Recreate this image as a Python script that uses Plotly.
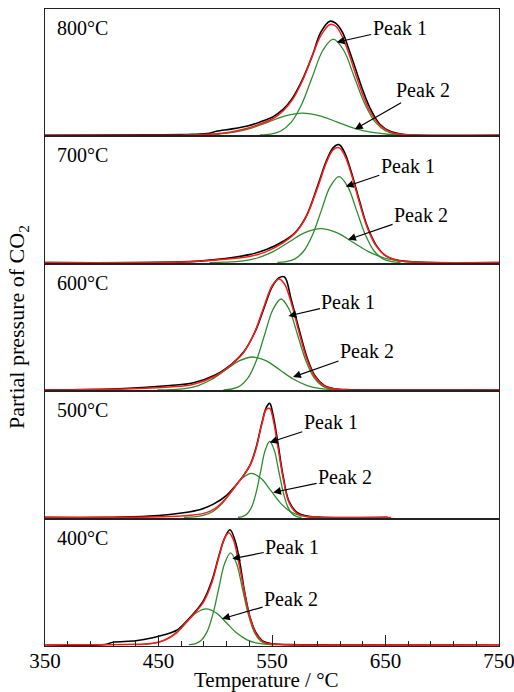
import plotly.graph_objects as go
from plotly.subplots import make_subplots

FONT = "Liberation Serif"

# ---------------- data (temperature in °C, partial pressure in arbitrary units) ----------------
panel_labels = ["800°C", "700°C", "600°C", "500°C", "400°C"]
x_ticks = [350, 450, 550, 650, 750]

# 800 °C
black_800_T = [350, 442, 480, 495, 501, 515, 530, 539, 551, 560, 568, 577, 586, 593, 601, 606, 612, 618, 624, 630, 636, 645, 654, 665, 680, 750]
black_800_v = [0, 0.3, 0.8, 2, 4, 6.3, 9.7, 13, 18.5, 26, 37, 56, 81, 103, 114, 112, 103, 85, 65, 45, 28, 11, 4, 1, 0, 0]
red_800_T = [350, 480, 495, 501, 515, 530, 539, 551, 560, 568, 577, 586, 593, 601, 606, 612, 618, 624, 630, 636, 645, 654, 665, 680, 750]
red_800_v = [0, 0.3, 1, 1.5, 3.5, 7.5, 11, 16.7, 24.4, 35.5, 55, 80.7, 99.5, 110.7, 109.2, 98.5, 80.7, 60, 40.3, 24.7, 9.9, 3.3, 0.6, 0, 0]
p1_800_T = [539.25, 548.5, 557.75, 567, 576.25, 585.5, 594.75, 604, 613.25, 622.5, 631.75, 641, 650.25, 659.5, 668.75]
p1_800_v = [0.2, 1.1, 4.2, 13.0, 31.2, 58.2, 84.7, 96, 84.7, 58.2, 31.2, 13.0, 4.2, 1.1, 0.2]
p2_800_T = [472, 487, 502, 517, 532, 547, 562, 577, 592, 607, 622, 637, 652, 667, 682]
p2_800_v = [0.05, 0.24, 0.97, 2.98, 7.14, 13.3, 19.4, 22, 19.4, 13.3, 7.14, 2.98, 0.97, 0.24, 0.05]

# 700 °C
black_700_T = [350, 470, 500, 530, 545, 560, 570, 580, 590, 598, 604, 609, 614, 620, 627, 634, 642, 650, 660, 675, 690, 750]
black_700_v = [0, 0.7, 3, 8, 13, 21.3, 29.5, 46, 76, 102, 115, 118, 110, 90, 62, 36, 17, 7, 2.5, 0.8, 0, 0]
red_700_T = [350, 470, 500, 530, 545, 560, 570, 580, 590, 598, 604, 609, 614, 620, 627, 634, 642, 650, 660, 675, 690, 750]
red_700_v = [0, 0.5, 2.5, 6, 11, 20, 29, 45.5, 74.4, 100.3, 113, 115, 107.3, 88.2, 60.1, 35, 16.2, 6.9, 2.3, 0.5, 0, 0]
p1_700_T = [554.75, 562.5, 570.25, 578, 585.75, 593.5, 601.25, 609, 616.75, 624.5, 632.25, 640, 647.75, 655.5, 663.25]
p1_700_v = [0.19, 0.95, 3.78, 11.6, 27.9, 52.2, 75.9, 86, 75.9, 52.2, 27.9, 11.6, 3.78, 0.95, 0.19]
p2_700_T = [495, 509, 523, 537, 551, 565, 579, 593, 607, 621, 635, 649, 663, 677, 691]
p2_700_v = [0.07, 0.38, 1.49, 4.6, 11.0, 20.6, 30.0, 34, 30.0, 20.6, 11.0, 4.6, 1.49, 0.38, 0.07]

# 600 °C
black_600_T = [350, 420, 460, 480, 500, 515, 525, 535, 543, 550, 556, 561, 567, 574, 581, 588, 596, 605, 620, 750]
black_600_v = [0, 1.5, 4.5, 7, 15, 26.5, 38, 58, 82, 103, 112, 113, 90, 60, 32, 14, 4.5, 1.2, 0.3, 0]
red_600_T = [350, 420, 460, 480, 500, 515, 525, 535, 543, 550, 556, 561, 567, 574, 581, 588, 596, 605, 620, 750]
red_600_v = [0, 1, 3, 5.5, 14, 26, 37.5, 58.5, 83.5, 104, 111, 106, 87, 57, 30, 13, 4, 1, 0, 0]
p1_600_T = [507.25, 514.5, 521.75, 529, 536.25, 543.5, 550.75, 558, 565.25, 572.5, 579.75, 587, 594.25, 601.5, 608.75]
p1_600_v = [0.2, 1.0, 4.0, 12.3, 29.5, 55.2, 80.3, 91, 80.3, 55.2, 29.5, 12.3, 4.0, 1.0, 0.2]
p2_600_T = [449, 461, 473, 485, 497, 509, 521, 533, 545, 557, 569, 581, 593, 605, 617]
p2_600_v = [0.07, 0.37, 1.45, 4.47, 10.7, 20.0, 29.1, 33, 29.1, 20.0, 10.7, 4.47, 1.45, 0.37, 0.07]

# 500 °C
black_500_T = [350, 400, 442, 472, 487, 498, 510, 518, 525, 531, 536, 541, 545, 548, 551, 555, 560, 565, 572, 580, 590, 652]
black_500_v = [0, 0, 1.3, 4.7, 8, 13, 22, 32, 42, 53, 70, 94, 110, 114, 102, 76, 40, 16, 5, 1.5, 0.3, 0]
red_500_T = [350, 470, 490, 500, 510, 518, 525, 531, 536, 541, 545, 548, 551, 555, 560, 565, 572, 580, 590, 655]
red_500_v = [0, 1.5, 4, 9, 20, 31.5, 42, 53, 69, 93, 108, 109, 98, 72, 38, 15, 4, 1, 0, 0]
p1_500_T = [520, 524, 528, 532, 536, 540, 544, 548, 552, 556, 560, 564, 568, 572, 576]
p1_500_v = [0.17, 0.84, 3.34, 10.3, 24.7, 46.1, 67.1, 76, 67.1, 46.1, 24.7, 10.3, 3.34, 0.84, 0.17]
p2_500_T = [472.5, 481, 489.5, 498, 506.5, 515, 523.5, 532, 540.5, 549, 557.5, 566, 574.5, 583, 591.5]
p2_500_v = [0.1, 0.49, 1.93, 5.95, 14.3, 26.7, 38.8, 44, 38.8, 26.7, 14.3, 5.95, 1.93, 0.49, 0.1]

# 400 °C
black_400_T = [350, 403, 410, 430, 445, 455, 466, 475, 483, 490, 497, 503, 508, 513, 518, 522, 526, 531, 536, 543, 552, 565, 750]
black_400_v = [0, 0.3, 2.5, 4, 7, 10, 14.5, 24, 34, 45, 64, 88, 106, 115, 102, 80, 52, 26, 12, 3, 0.8, 0.2, 0]
red_400_T = [350, 430, 445, 455, 466, 475, 483, 490, 497, 503, 508, 512, 516, 520, 525, 530, 536, 543, 552, 565, 750]
red_400_v = [0, 0.5, 1.5, 4.5, 12, 23, 33, 43.5, 62, 87, 106, 112, 105, 86, 57, 30, 11, 2.5, 0.5, 0, 0]
p1_400_T = [476.75, 482, 487.25, 492.5, 497.75, 503, 508.25, 513.5, 518.75, 524, 529.25, 534.5, 539.75, 545, 550.25]
p1_400_v = [0.2, 1.0, 4.0, 12.4, 29.9, 55.8, 81.2, 92, 81.2, 55.8, 29.9, 12.4, 4.0, 1.0, 0.2]
p2_400_T = [429, 438, 447, 456, 465, 474, 483, 492, 501, 510, 519, 528, 537, 546, 555]
p2_400_v = [0.08, 0.4, 1.58, 4.87, 11.7, 21.8, 31.8, 36, 31.8, 21.8, 11.7, 4.87, 1.58, 0.4, 0.08]

series = [
    (black_800_T, black_800_v, red_800_T, red_800_v, p1_800_T, p1_800_v, p2_800_T, p2_800_v),
    (black_700_T, black_700_v, red_700_T, red_700_v, p1_700_T, p1_700_v, p2_700_T, p2_700_v),
    (black_600_T, black_600_v, red_600_T, red_600_v, p1_600_T, p1_600_v, p2_600_T, p2_600_v),
    (black_500_T, black_500_v, red_500_T, red_500_v, p1_500_T, p1_500_v, p2_500_T, p2_500_v),
    (black_400_T, black_400_v, red_400_T, red_400_v, p1_400_T, p1_400_v, p2_400_T, p2_400_v),
]

# ---------------- figure ----------------
BLACK = "#000000"
RED = "#ff1a1a"
GREEN = "#2e8b2e"
FRAME = "#222222"

fig = make_subplots(rows=5, cols=1, shared_xaxes=True, vertical_spacing=0)

for i, (bT, bv, rT, rv, aT, av, cT, cv) in enumerate(series, start=1):
    fig.add_trace(go.Scatter(x=bT, y=bv, mode="lines", showlegend=False, hoverinfo="skip",
                             line=dict(color=BLACK, width=1.6, shape="spline")), row=i, col=1)
    fig.add_trace(go.Scatter(x=aT, y=av, mode="lines", showlegend=False, hoverinfo="skip",
                             line=dict(color=GREEN, width=1.3, shape="spline")), row=i, col=1)
    fig.add_trace(go.Scatter(x=cT, y=cv, mode="lines", showlegend=False, hoverinfo="skip",
                             line=dict(color=GREEN, width=1.3, shape="spline")), row=i, col=1)
    fig.add_trace(go.Scatter(x=rT, y=rv, mode="lines", showlegend=False, hoverinfo="skip",
                             line=dict(color=RED, width=1.5, shape="spline")), row=i, col=1)
    fig.update_yaxes(range=[-1.2, 126.2], showticklabels=False, ticks="", showgrid=False,
                     zeroline=False, showline=True, mirror=True, linecolor=FRAME, linewidth=1,
                     automargin=False, row=i, col=1)

fig.update_xaxes(range=[350, 750], showgrid=False, zeroline=False, showline=True, mirror=True,
                 linecolor=FRAME, linewidth=1, ticks="", showticklabels=False, automargin=False)
fig.update_xaxes(tickmode="linear", tick0=x_ticks[0], dtick=x_ticks[1] - x_ticks[0],
                 ticks="inside", ticklen=11, tickwidth=1, tickcolor=FRAME,
                 showticklabels=True, ticklabeloverflow="allow", automargin=False,
                 ticklabelstandoff=-4,
                 tickfont=dict(family=FONT, size=21, color="black"),
                 minor=dict(ticks="inside", ticklen=5, tick0=350, dtick=20, tickcolor=FRAME, tickwidth=1),
                 row=5, col=1)

annotations = []
for i, lab in enumerate(panel_labels, start=1):
    yref = "y domain" if i == 1 else f"y{i} domain"
    annotations.append(dict(text=lab, xref="paper", x=0.022, xanchor="left",
                            yref=yref, y=0.851, yanchor="middle", showarrow=False,
                            font=dict(family=FONT, size=20, color="black")))

# arrow heads (T, value) and pixel offsets to label centers
peak_arrows = [
    (1, "Peak 1", 607, 93, 63, -14), (1, "Peak 2", 623, 6, 68, -39),
    (2, "Peak 1", 615, 76, 62, -21), (2, "Peak 2", 617, 23, 73, -25),
    (3, "Peak 1", 564.5, 74, 60, -14), (3, "Peak 2", 568.5, 13, 74, -26),
    (4, "Peak 1", 548, 75, 61, -20), (4, "Peak 2", 551, 25, 72, -15),
    (5, "Peak 1", 515, 86, 60, -12), (5, "Peak 2", 506, 26, 69, -20),
]
for row, txt, hx, hy, ax, ay in peak_arrows:
    xr = "x" if row == 1 else f"x{row}"
    yr = "y" if row == 1 else f"y{row}"
    annotations.append(dict(text=txt, x=hx, y=hy, xref=xr, yref=yr, ax=ax, ay=ay,
                            showarrow=True, arrowhead=2, arrowsize=1.3, arrowwidth=1.2,
                            arrowcolor="black", standoff=0, borderpad=1,
                            font=dict(family=FONT, size=20, color="black")))

annotations.append(dict(text="Temperature / °C", xref="paper", yref="paper", x=0.488, y=-0.053,
                        xanchor="center", yanchor="middle", showarrow=False,
                        font=dict(family=FONT, size=21, color="black")))
annotations.append(dict(text="Partial pressure of CO<sub>2</sub>", xref="paper", yref="paper",
                        x=-0.0595, y=0.5008, xanchor="center", yanchor="middle", textangle=-90,
                        showarrow=False, font=dict(family=FONT, size=22, color="black")))

fig.update_layout(width=514, height=692, margin=dict(l=45, r=15, t=9, b=46, autoexpand=False),
                  plot_bgcolor="white", paper_bgcolor="white", annotations=annotations,
                  showlegend=False)

fig.write_html("out.html")
